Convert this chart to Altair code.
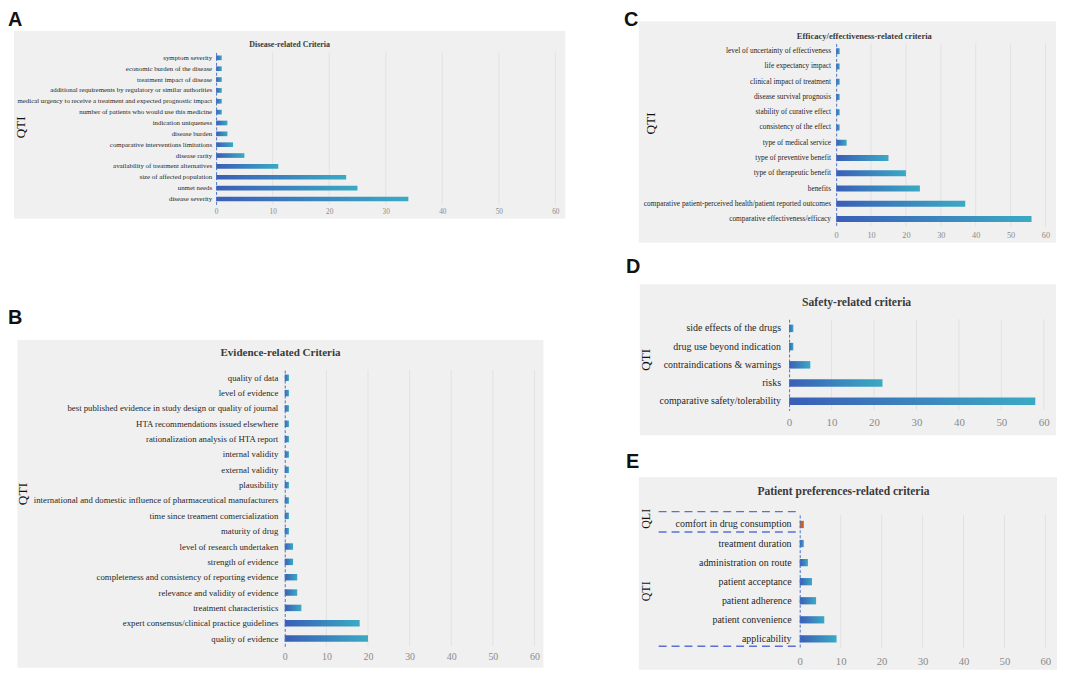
import altair as alt
import pandas as pd

ticks = [0, 10, 20, 30, 40, 50, 60]

a_cats = ["symptom severity", "economic burden of the disease", "treatment impact of disease",
          "additional requirements by regulatory or similar authorities",
          "medical urgency to receive a treatment and expected prognostic impact",
          "number of patients who would use this medicine", "indication uniqueness", "disease burden",
          "comparative interventions limitations", "disease rarity", "availability of treatment alternatives",
          "size of affected population", "unmet needs", "disease severity"]
a_vals = [1, 1, 1, 1, 1, 1, 2, 2, 3, 5, 11, 23, 25, 34]

b_cats = ["quality of data", "level of evidence", "best published evidence in study design or quality of journal",
          "HTA recommendations issued elsewhere", "rationalization analysis of HTA report", "internal validity",
          "external validity", "plausibility",
          "international and domestic influence of pharmaceutical manufacturers",
          "time since treament comercialization", "maturity of drug", "level of research undertaken",
          "strength of evidence", "completeness and consistency of reporting evidence",
          "relevance and validity of evidence", "treatment characteristics",
          "expert consensus/clinical practice guidelines", "quality of evidence"]
b_vals = [1, 1, 1, 1, 1, 1, 1, 1, 1, 1, 1, 2, 2, 3, 3, 4, 18, 20]

c_cats = ["level of uncertainty of effectiveness", "life expectancy impact", "clinical impact of treatment",
          "disease survival prognosis", "stability of curative effect", "consistency of the effect",
          "type of medical service", "type of preventive benefit", "type of therapeutic benefit", "benefits",
          "comparative patient-perceived health/patient reported outcomes", "comparative effectiveness/efficacy"]
c_vals = [1, 1, 1, 1, 1, 1, 3, 15, 20, 24, 37, 56]

d_cats = ["side effects of the drugs", "drug use beyond indication", "contraindications & warnings", "risks",
          "comparative safety/tolerability"]
d_vals = [1, 1, 5, 22, 58]

e_cats = ["comfort in drug consumption", "treatment duration", "administration on route", "patient acceptance",
          "patient adherence", "patient convenience", "applicability"]
e_vals = [1, 1, 2, 3, 4, 6, 9]
e_kind = ["QLI", "QTI", "QTI", "QTI", "QTI", "QTI", "QTI"]

SERIF = "Liberation Serif"
SANS = "Liberation Sans"
BOX = "#f0f0f0"
GRID = "#e2e2e2"
DOMAIN = "#4a73c9"
DASH = "#5b70d2"
ORANGE = "#c9622a"

GRAD = alt.Gradient(
    gradient="linear",
    stops=[alt.GradientStop(color="#3a5eb7", offset=0), alt.GradientStop(color="#3aaac4", offset=1)],
    x1=0, x2=1, y1=0, y2=0,
)


def one(text):
    return pd.DataFrame({"t": [text]})


def panel(cats, vals, kinds, GW, GH, plot, box, lab_fs, lab_pad, tick_fs, tick_pad, letter, title, sides,
          pi=0.6, dashed=None):
    x0, x1, y0, y1 = plot
    df = pd.DataFrame({"cat": cats, "val": vals, "kind": kinds})
    xscale = alt.Scale(domain=[0, 60], nice=False, zero=True, range=[x0, x1])
    yscale = alt.Scale(domain=cats, paddingInner=pi, paddingOuter=pi / 2, range=[y0, y1])
    xaxis = alt.Axis(title=None, values=ticks, labelFont=SERIF, labelFontSize=tick_fs, labelColor="#8a8a8a",
                     ticks=False, domain=False, grid=False, labelPadding=tick_pad, labelFlush=False,
                     labelOverlap=False, offset=-(GH - y1), zindex=1)
    yaxis = alt.Axis(title=None, labelFont=SERIF, labelFontSize=lab_fs, labelColor="#262626", labelLimit=600,
                     ticks=False, domain=True, domainColor=DOMAIN, domainDash=[3, 2], domainWidth=1,
                     labelPadding=lab_pad, grid=False, offset=-x0, zindex=1)
    X = alt.X("val:Q", scale=xscale, axis=xaxis)
    Y = alt.Y("cat:N", scale=yscale, axis=yaxis)

    bx0, bx1, by0, by1 = box
    layers = [
        alt.Chart(one("")).mark_rect(color=BOX).encode(
            x=alt.value(bx0), x2=alt.value(bx1), y=alt.value(by0), y2=alt.value(by1)),
        alt.Chart(pd.DataFrame({"val": ticks[1:]})).mark_rule(color=GRID, strokeWidth=1).encode(
            x=X, y=alt.value(y0), y2=alt.value(y1)),
        alt.Chart(df).transform_filter(alt.datum.kind == "QTI").mark_bar(color=GRAD).encode(x=X, y=Y),
    ]
    if "QLI" in kinds:
        layers.append(alt.Chart(df).transform_filter(alt.datum.kind == "QLI").mark_bar(color=ORANGE)
                      .encode(x=X, y=Y))
    if dashed:
        for cat, off, dx0 in dashed:
            layers.append(alt.Chart(pd.DataFrame({"cat": [cat]})).mark_rule(
                color=DASH, strokeDash=[8, 5], strokeWidth=1.3, yOffset=off).encode(
                y=Y, x=alt.value(dx0), x2=alt.value(x0)))
    lx, ly, ltxt = letter
    layers.append(alt.Chart(one(ltxt)).mark_text(
        font=SANS, fontWeight="bold", fontSize=20, align="left", baseline="alphabetic", color="#111111").encode(
        text="t:N", x=alt.value(lx), y=alt.value(ly)))
    tx, ty, tfs, ttxt = title
    layers.append(alt.Chart(one(ttxt)).mark_text(
        font=SERIF, fontWeight="bold", fontSize=tfs, align="center", baseline="middle", color="#3a3a3a").encode(
        text="t:N", x=alt.value(tx), y=alt.value(ty)))
    for sx, sy, sfs, stxt in sides:
        layers.append(alt.Chart(one(stxt)).mark_text(
            font=SERIF, fontSize=sfs, angle=270, align="center", baseline="middle", color="#111111").encode(
            text="t:N", x=alt.value(sx), y=alt.value(sy)))
    return alt.layer(*layers).properties(width=GW, height=GH)


# group origins (page): A (14,19)  C (643,19)  B (14,250)  D (643,250)  E (643,444)
pA = panel(a_cats, a_vals, ["QTI"] * len(a_cats), 555, 223,
           (203.5, 545, 31.5, 184.5), (0, 555, 10, 199), 6.9, 4.5, 7.3, 3.5,
           (-6, 5, "A"), (277.5, 24, 8, "Disease-related Criteria"), [(7.5, 107, 13.2, "QTI")], pi=0.57)

pC = panel(c_cats, c_vals, ["QTI"] * len(c_cats), 420, 223,
           (198.7, 409.4, 22.6, 206.9), (0, 420, 0, 223), 7.4, 5.7, 8.3, 4,
           (-15, 5, "C"), (227, 14.7, 8.6, "Efficacy/effectiveness-related criteria"),
           [(12, 103, 13.5, "QTI")], pi=0.61)

pB = panel(b_cats, b_vals, ["QTI"] * len(b_cats), 555, 186,
           (272.6, 524, 120.3, 398.3), (3.5, 533, 90, 420), 8.8, 7, 10, 5.5,
           (-6, 74, "B"), (268.3, 103, 11.1, "Evidence-related Criteria"), [(9, 245, 13.5, "QTI")], pi=0.58)

pD = panel(d_cats, d_vals, ["QTI"] * len(d_cats), 420, 186,
           (151.3, 407.7, 69.1, 160.9), (1, 420, 34, 186), 10, 8.6, 11, 6,
           (-13, 23, "D"), (219.3, 51.7, 11.7, "Safety-related criteria"), [(7, 110, 13.2, "QTI")], pi=0.59)

pE = panel(e_cats, e_vals, e_kind, 421, 228,
           (162, 409.3, 72.1, 206.5), (0, 421, 34, 228), 10, 8.7, 10.8, 7,
           (-13, 25, "E"), (206, 49.3, 11.6, "Patient preferences-related criteria"),
           [(7, 76, 12, "QLI"), (7, 149, 12, "QTI")], pi=0.62,
           dashed=[("comfort in drug consumption", -13, 20), ("comfort in drug consumption", 7.6, 20),
                   ("applicability", 7.4, 20)])

spacer = alt.Chart(one("")).mark_point(opacity=0).encode(
    x=alt.value(0), y=alt.value(0)).properties(width=1, height=1)

chart = alt.concat(pA, pC, pB, pD, spacer, pE, columns=2, bounds="flush",
                   spacing={"row": 8, "column": 74}).properties(
    padding=0,
).configure_view(stroke=None)

chart.save("out.html", embed_options={"renderer": "svg", "actions": False})
